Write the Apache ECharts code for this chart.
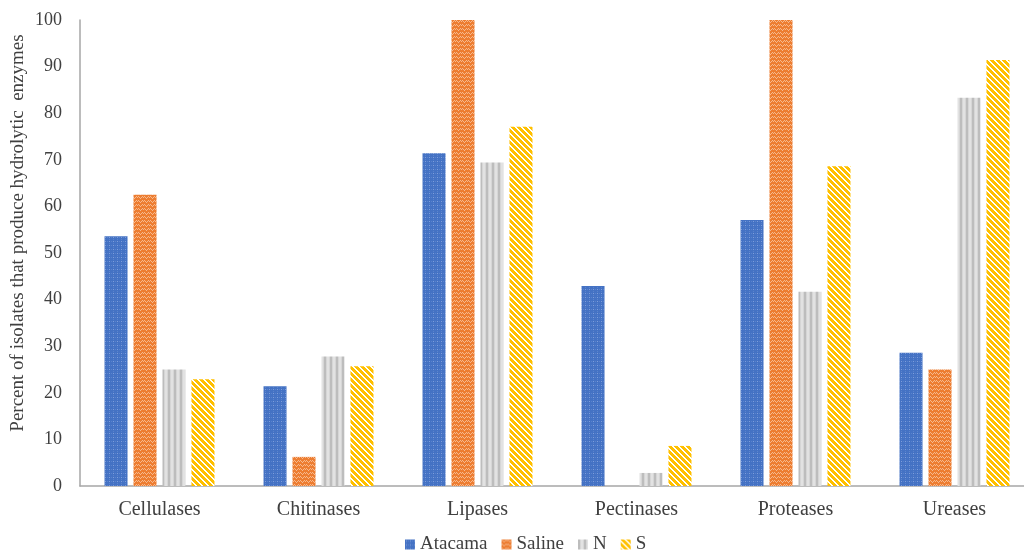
<!DOCTYPE html>
<html>
<head>
<meta charset="utf-8">
<script src="https://cdn.jsdelivr.net/npm/echarts@6/dist/echarts.min.js"></script>
<style>
  html, body { margin: 0; padding: 0; background: #ffffff; }
  #chart { width: 1024px; height: 556px; }
</style>
</head>
<body>
<div id="chart"></div>
<script>
// Enzyme categories and per-site percentages
const categories = ['Cellulases', 'Chitinases', 'Lipases', 'Pectinases', 'Proteases', 'Ureases'];
const atacama = [53.6, 21.4, 71.4, 42.9, 57.1, 28.6];
const saline  = [62.5, 6.25, 100, 0, 100, 25];
const northern = [25, 27.8, 69.4, 2.8, 41.7, 83.3];
const southern = [22.9, 25.7, 77.1, 8.6, 68.6, 91.4];
const yTicks = [0, 10, 20, 30, 40, 50, 60, 70, 80, 90, 100];

const FONT = '"Liberation Serif", "Times New Roman", serif';
const TEXT = '#404040';

// Tiled fill patterns for each series
function tile(w, h, draw) {
  const c = document.createElement('canvas');
  c.width = w; c.height = h;
  draw(c.getContext('2d'), w, h);
  return c;
}

const dotPattern = tile(4, 4, (g) => {
  g.fillStyle = '#4472C4'; g.fillRect(0, 0, 4, 4);
  g.fillStyle = '#7F9EDB'; g.fillRect(1, 1, 1, 1);
  g.fillStyle = '#5A83CC'; g.fillRect(3, 1, 1, 1); g.fillRect(1, 3, 1, 1);
});

const zigzagPattern = tile(6, 4, (g) => {
  g.fillStyle = '#ED7D31'; g.fillRect(0, 0, 6, 4);
  g.fillStyle = '#F6B98E';
  g.fillRect(0, 0, 1, 1); g.fillRect(1, 1, 1, 1); g.fillRect(2, 2, 1, 1);
  g.fillRect(3, 1, 1, 1); g.fillRect(4, 0, 1, 1); g.fillRect(5, 1, 1, 1);
});

const stripePattern = tile(6, 1, (g) => {
  g.fillStyle = '#D6D6D6'; g.fillRect(0, 0, 6, 1);
  g.fillStyle = '#BDBDBD'; g.fillRect(0, 0, 2, 1);
  g.fillStyle = '#E2E2E2'; g.fillRect(3, 0, 2, 1);
});

const diagPattern = tile(6, 6, (g) => {
  for (let y = 0; y < 6; y++) {
    for (let x = 0; x < 6; x++) {
      const k = ((x - y) % 6 + 6) % 6;
      g.fillStyle = k < 4 ? '#FFC000' : '#FFFFFF';
      g.fillRect(x, y, 1, 1);
    }
  }
});

function fill(canvas) {
  return { image: canvas, repeat: 'repeat' };
}

const chart = echarts.init(document.getElementById('chart'), null, { renderer: 'canvas' });

const barCommon = { type: 'bar', barWidth: 23, barGap: '26%' };

chart.setOption({
  animation: false,
  backgroundColor: '#ffffff',
  textStyle: { fontFamily: FONT, color: TEXT },
  grid: { left: 80, right: -10, top: 20, bottom: 70, containLabel: false, outerBoundsMode: 'none' },
  legend: {
    top: 530,
    left: 400,
    icon: 'rect',
    itemWidth: 10,
    itemHeight: 10,
    itemGap: 14,
    textStyle: { fontFamily: FONT, fontSize: 19, color: TEXT },
    data: ['Atacama', 'Saline', 'N', 'S']
  },
  xAxis: {
    type: 'category',
    data: categories,
    axisLine: { lineStyle: { color: '#A6A6A6', width: 1.5 } },
    axisTick: { show: false },
    axisLabel: { fontFamily: FONT, fontSize: 20, color: TEXT, margin: 14 }
  },
  yAxis: {
    type: 'value',
    min: 0,
    max: 100,
    interval: 10,
    name: 'Percent of isolates that produce hydrolytic  enzymes',
    nameLocation: 'middle',
    nameGap: 52,
    nameRotate: 90,
    nameMoveOverlap: false,
    nameTextStyle: { fontFamily: FONT, fontSize: 19, color: TEXT, padding: [0, 0, 0, 40] },
    axisLine: { show: true, lineStyle: { color: '#A6A6A6', width: 1.5 } },
    axisTick: { show: false },
    splitLine: { show: false },
    axisLabel: {
      fontFamily: FONT, fontSize: 18, color: TEXT, margin: 18,
      formatter: (v) => (yTicks.indexOf(v) >= 0 ? String(v) : '')
    }
  },
  series: [
    Object.assign({ name: 'Atacama', data: atacama, itemStyle: { color: fill(dotPattern) } }, barCommon),
    Object.assign({ name: 'Saline', data: saline, itemStyle: { color: fill(zigzagPattern) } }, barCommon),
    Object.assign({ name: 'N', data: northern, itemStyle: { color: fill(stripePattern) } }, barCommon),
    Object.assign({ name: 'S', data: southern, itemStyle: { color: fill(diagPattern) } }, barCommon)
  ]
});
</script>
</body>
</html>
